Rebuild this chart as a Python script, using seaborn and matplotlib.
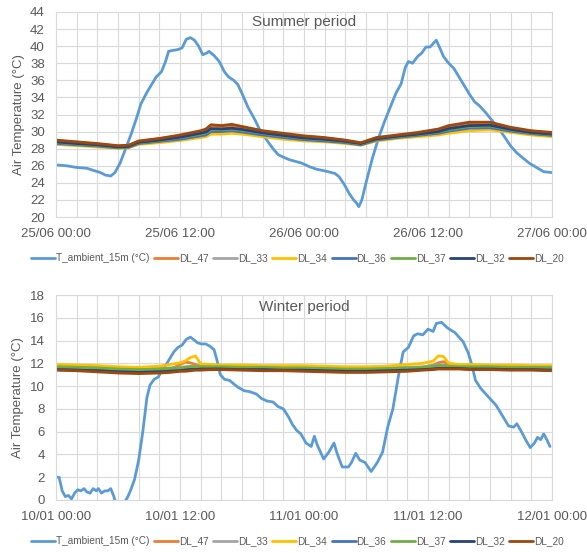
import pandas as pd
import numpy as np
import matplotlib.pyplot as plt
import matplotlib.dates as mdates
from matplotlib.lines import Line2D
import seaborn as sns

sns.set_style('white')
plt.rcParams['font.family'] = ['Liberation Sans', 'DejaVu Sans']

series_names = ['T_ambient_15m (°C)', 'DL_47', 'DL_33', 'DL_34', 'DL_36', 'DL_37', 'DL_32', 'DL_20']
series_colors = ['#5B9BD5', '#ED7D31', '#A5A5A5', '#FFC000', '#4472C4', '#70AD47', '#264478', '#9E480E']

summer_start = '2019-06-25 00:00'
winter_start = '2020-01-10 00:00'

# ---- summer period (hours from 25/06 00:00) ----
summer_amb_h = [0, 1, 2, 3, 3.5, 4.3, 4.8, 5.3, 5.7, 6.2, 6.8, 7.3, 7.8, 8.2, 8.8, 9.3, 9.7, 10.2,
                10.6, 10.9, 11.3, 11.8, 12.2, 12.6, 13.0, 13.4, 13.8, 14.2, 14.6, 14.8, 15.3, 15.8,
                16.3, 16.7, 17.2, 17.6, 18.1, 18.6, 19.2, 19.8, 20.4, 21.0, 21.5, 22.0, 22.6, 23.2,
                23.8, 24.5, 25.2, 26.0, 27.0, 27.4, 27.9, 28.4, 28.8, 29.1, 29.3, 29.6, 30.0, 30.6,
                31.2, 31.8, 32.4, 32.9, 33.4, 33.8, 34.1, 34.5, 35.0, 35.4, 35.8, 36.2, 36.5, 36.8,
                37.1, 37.5, 38.0, 38.5, 39.0, 39.5, 40.0, 40.5, 41.0, 41.6, 42.2, 42.8, 43.4, 44.0,
                44.6, 45.2, 45.8, 46.5, 47.2, 48.0]
summer_amb = [26.1, 26.0, 25.8, 25.7, 25.5, 25.2, 24.9, 24.8, 25.2, 26.3, 28.2, 29.8, 31.6, 33.2, 34.6,
              35.6, 36.4, 37.0, 38.2, 39.4, 39.5, 39.6, 39.8, 40.8, 41.0, 40.7, 40.0, 39.0, 39.2, 39.4,
              38.9, 38.2, 37.0, 36.4, 36.0, 35.5, 34.2, 32.8, 31.5, 30.0, 29.0, 28.0, 27.3, 27.0, 26.7,
              26.5, 26.3, 25.9, 25.6, 25.4, 25.1, 24.7, 23.8, 22.7, 22.0, 21.6, 21.2, 22.0, 24.0, 26.8,
              29.2, 31.2, 33.0, 34.5, 35.6, 37.5, 38.2, 38.0, 38.8, 39.2, 39.9, 39.9, 40.3, 40.7, 39.9,
              38.8, 38.0, 37.4, 36.4, 35.4, 34.4, 33.5, 33.0, 32.2, 31.3, 30.4, 29.4, 28.3, 27.5, 26.9,
              26.3, 25.8, 25.3, 25.2]

summer_dl_h = [0, 2, 4, 6, 7, 8, 10, 12, 14, 14.5, 15, 16, 17, 18, 20, 22, 24, 26, 28, 29.5,
               31, 33, 35, 37, 38, 40, 42, 44, 46, 48]
summer_dl47 = [28.95, 28.75, 28.55, 28.3, 28.35, 28.85, 29.15, 29.5, 29.95, 30.15, 30.65, 30.55, 30.7,
               30.5, 30.0, 29.7, 29.45, 29.25, 28.95, 28.65, 29.25, 29.55, 29.8, 30.15, 30.5, 30.9,
               30.95, 30.4, 30.05, 29.85]
summer_dl33 = [28.7, 28.5, 28.35, 28.1, 28.15, 28.65, 28.9, 29.2, 29.6, 29.75, 30.1, 30.1, 30.2, 30.05,
               29.7, 29.4, 29.15, 29.0, 28.75, 28.5, 29.05, 29.35, 29.6, 29.9, 30.15, 30.5, 30.55,
               30.15, 29.8, 29.6]
summer_dl34 = [28.5, 28.35, 28.2, 28.05, 28.1, 28.5, 28.7, 28.95, 29.3, 29.4, 29.7, 29.7, 29.8, 29.7,
               29.4, 29.1, 28.9, 28.8, 28.6, 28.4, 28.9, 29.2, 29.4, 29.6, 29.8, 30.1, 30.2, 29.9,
               29.6, 29.4]
summer_dl36 = [28.6, 28.45, 28.3, 28.1, 28.15, 28.6, 28.85, 29.1, 29.5, 29.6, 30.0, 30.0, 30.1, 29.95,
               29.6, 29.3, 29.05, 28.9, 28.7, 28.45, 29.0, 29.3, 29.55, 29.8, 30.05, 30.4, 30.45,
               30.05, 29.75, 29.55]
summer_dl37 = [28.75, 28.55, 28.4, 28.15, 28.2, 28.7, 28.95, 29.3, 29.7, 29.85, 30.25, 30.2, 30.3,
               30.15, 29.8, 29.5, 29.2, 29.05, 28.8, 28.55, 29.1, 29.4, 29.65, 29.95, 30.25, 30.6,
               30.65, 30.2, 29.85, 29.65]
summer_dl32 = [28.8, 28.6, 28.45, 28.2, 28.25, 28.75, 29.0, 29.35, 29.8, 29.95, 30.35, 30.3, 30.4,
               30.25, 29.85, 29.55, 29.25, 29.1, 28.85, 28.6, 29.15, 29.45, 29.7, 30.0, 30.35, 30.7,
               30.75, 30.25, 29.9, 29.7]
summer_dl20 = [29.0, 28.8, 28.6, 28.35, 28.4, 28.9, 29.2, 29.6, 30.1, 30.3, 30.8, 30.7, 30.85, 30.6,
               30.1, 29.8, 29.5, 29.3, 29.0, 28.7, 29.3, 29.6, 29.9, 30.3, 30.7, 31.1, 31.1, 30.5,
               30.1, 29.9]

# ---- winter period (hours from 10/01 00:00) ----
winter_amb_h = [0, 0.3, 0.6, 0.9, 1.2, 1.5, 1.8, 2.1, 2.4, 2.7, 3.0, 3.3, 3.6, 3.9, 4.1, 4.4, 4.7,
                5.0, 5.3, 5.6, 5.8, 6.2, 6.6, 6.9, 7.2, 7.6, 8.0, 8.4, 8.8, 9.1, 9.5, 9.9, 10.2, 10.6,
                11.0, 11.4, 11.8, 12.2, 12.6, 13.0, 13.3, 13.7, 14.1, 14.5, 14.9, 15.3, 15.6, 15.9,
                16.3, 16.8, 17.2, 17.6, 18.2, 18.8, 19.4, 19.9, 20.4, 21.0, 21.5, 22.0, 22.5, 22.9,
                23.3, 23.7, 24.2, 24.7, 25.0, 25.3, 25.9, 26.4, 26.9, 27.2, 27.7, 28.3, 28.6, 29.0,
                29.4, 29.9, 30.5, 31.1, 31.6, 32.1, 32.6, 32.9, 33.2, 33.6, 34.1, 34.6, 35.0, 35.5,
                36.0, 36.5, 36.8, 37.3, 37.9, 38.6, 39.4, 39.9, 40.2, 40.6, 41.1, 41.6, 42.1, 42.6,
                43.2, 43.8, 44.3, 44.6, 45.1, 45.5, 45.9, 46.3, 46.6, 46.9, 47.2, 47.5, 47.8]
winter_amb = [2.0, 2.0, 0.8, 0.3, 0.4, 0.1, 0.6, 0.9, 0.8, 1.0, 0.7, 0.6, 1.0, 0.8, 1.0, 0.6, 0.8,
              0.8, 1.0, 0.3, -0.3, -0.6, -0.2, 0.2, 0.8, 1.8, 3.5, 6.0, 9.0, 10.1, 10.6, 10.8, 11.3,
              11.8, 12.4, 13.0, 13.4, 13.6, 14.1, 14.3, 14.1, 13.8, 13.7, 13.7, 13.5, 13.2, 12.2,
              11.0, 10.6, 10.5, 10.2, 9.9, 9.6, 9.5, 9.3, 8.9, 8.7, 8.6, 8.2, 8.0, 7.3, 6.6, 6.1,
              5.8, 5.0, 4.7, 5.6, 4.8, 3.6, 4.2, 5.0, 4.1, 2.9, 2.9, 3.3, 4.1, 3.5, 3.3, 2.5, 3.3,
              4.2, 6.4, 8.0, 9.6, 11.2, 13.0, 13.4, 14.4, 14.6, 14.5, 15.0, 14.8, 15.5, 15.6, 15.1,
              14.7, 13.9, 12.9, 12.0, 10.5, 9.8, 9.3, 8.8, 8.3, 7.4, 6.5, 6.4, 6.7, 5.9, 5.2, 4.6,
              5.0, 5.5, 5.3, 5.8, 5.3, 4.7]

winter_dl_h = [0, 2, 4, 6, 8, 10, 11, 12, 12.5, 13, 13.5, 14, 15, 16, 18, 20, 22, 24, 26, 28, 30,
               32, 34, 35.5, 36.5, 37, 37.5, 38, 39, 40, 42, 44, 46, 48]
winter_dl47 = [11.5, 11.45, 11.4, 11.3, 11.25, 11.3, 11.45, 11.9, 12.1, 12.05, 11.9, 11.75, 11.6,
               11.55, 11.5, 11.45, 11.45, 11.4, 11.35, 11.3, 11.3, 11.35, 11.5, 11.65, 11.85, 12.05,
               12.15, 11.9, 11.7, 11.6, 11.55, 11.5, 11.5, 11.45]
winter_dl33 = [11.75, 11.7, 11.65, 11.55, 11.5, 11.55, 11.6, 11.65, 11.7, 11.75, 11.75, 11.75, 11.75,
               11.7, 11.7, 11.7, 11.65, 11.65, 11.6, 11.55, 11.55, 11.6, 11.65, 11.7, 11.8, 11.85,
               11.85, 11.8, 11.75, 11.75, 11.7, 11.7, 11.7, 11.65]
winter_dl34 = [11.9, 11.85, 11.8, 11.7, 11.65, 11.75, 11.9, 12.05, 12.2, 12.5, 12.65, 11.95, 11.9,
               11.85, 11.85, 11.8, 11.8, 11.8, 11.75, 11.7, 11.7, 11.75, 11.9, 12.0, 12.2, 12.65,
               12.6, 12.0, 11.9, 11.9, 11.85, 11.85, 11.8, 11.8]
winter_dl36 = [11.55, 11.5, 11.45, 11.35, 11.3, 11.35, 11.4, 11.45, 11.5, 11.55, 11.55, 11.6, 11.6,
               11.55, 11.55, 11.5, 11.5, 11.5, 11.45, 11.4, 11.4, 11.45, 11.5, 11.55, 11.6, 11.65,
               11.65, 11.65, 11.6, 11.6, 11.55, 11.55, 11.55, 11.5]
winter_dl37 = [11.7, 11.65, 11.6, 11.5, 11.45, 11.5, 11.55, 11.6, 11.65, 11.7, 11.7, 11.7, 11.7,
               11.7, 11.65, 11.65, 11.6, 11.6, 11.55, 11.5, 11.5, 11.55, 11.6, 11.65, 11.75, 11.8,
               11.8, 11.75, 11.7, 11.7, 11.7, 11.65, 11.65, 11.65]
winter_dl32 = [11.45, 11.4, 11.35, 11.25, 11.2, 11.25, 11.3, 11.35, 11.4, 11.45, 11.45, 11.5, 11.5,
               11.5, 11.45, 11.45, 11.4, 11.4, 11.35, 11.3, 11.3, 11.35, 11.4, 11.45, 11.5, 11.55,
               11.55, 11.55, 11.55, 11.5, 11.5, 11.45, 11.45, 11.4]
winter_dl20 = [11.4, 11.35, 11.25, 11.15, 11.1, 11.15, 11.2, 11.3, 11.3, 11.35, 11.4, 11.4, 11.45,
               11.45, 11.4, 11.35, 11.35, 11.3, 11.25, 11.2, 11.2, 11.25, 11.3, 11.4, 11.45, 11.5,
               11.5, 11.5, 11.5, 11.45, 11.45, 11.4, 11.4, 11.35]


def build_frame(start, amb_h, amb, dl_h, dl_lists):
    t0 = pd.Timestamp(start)
    parts = [pd.DataFrame({'time': t0 + pd.to_timedelta(amb_h, unit='h'),
                           'temp': amb, 'series': series_names[0]})]
    for name, vals in zip(series_names[1:], dl_lists):
        parts.append(pd.DataFrame({'time': t0 + pd.to_timedelta(dl_h, unit='h'),
                                   'temp': vals, 'series': name}))
    return pd.concat(parts, ignore_index=True)


summer_df = build_frame(summer_start, summer_amb_h, summer_amb, summer_dl_h,
                        [summer_dl47, summer_dl33, summer_dl34, summer_dl36,
                         summer_dl37, summer_dl32, summer_dl20])
winter_df = build_frame(winter_start, winter_amb_h, winter_amb, winter_dl_h,
                        [winter_dl47, winter_dl33, winter_dl34, winter_dl36,
                         winter_dl37, winter_dl32, winter_dl20])

text_col = '#595959'
grid_col = '#d9d9d9'

fig = plt.figure(figsize=(5.87, 5.53), dpi=100)
W, H = 587, 553
ax_top = fig.add_axes([56 / W, 1 - 217 / H, 496 / W, 205 / H])
ax_bot = fig.add_axes([56 / W, 1 - 500 / H, 496 / W, 205 / H])

panels = [(ax_top, summer_df, summer_start, (20, 44), 'Summer period', 0.95),
          (ax_bot, winter_df, winter_start, (0, 18), 'Winter period', 0.94)]

for ax, df, start, ylim, title, ty in panels:
    sns.lineplot(data=df, x='time', y='temp', hue='series', hue_order=series_names,
                 palette=series_colors, estimator=None, lw=2, legend=False, ax=ax)
    t0 = pd.Timestamp(start)
    ax.set_xlim(t0, t0 + pd.Timedelta(hours=48))
    ax.set_ylim(*ylim)
    ax.set_yticks(np.arange(ylim[0], ylim[1] + 1, 2))
    ax.xaxis.set_major_locator(mdates.HourLocator(byhour=[0, 12]))
    ax.xaxis.set_minor_locator(mdates.HourLocator(interval=2))
    ax.xaxis.set_major_formatter(mdates.DateFormatter('%d/%m %H:%M'))
    ax.grid(True, which='both', color=grid_col, lw=0.8)
    ax.set_axisbelow(True)
    for sp in ax.spines.values():
        sp.set_color(grid_col)
        sp.set_linewidth(0.8)
    ax.tick_params(which='both', length=0, pad=8, labelsize=9.5, colors=text_col)
    ax.set_xlabel('')
    ax.set_ylabel('Air Temperature (°C)', fontsize=9.5, color=text_col, labelpad=4)
    ax.text(0.5, ty, title, transform=ax.transAxes, ha='center', va='center',
            fontsize=11, color=text_col)
    handles = [Line2D([], [], color=c, lw=2) for c in series_colors]
    leg = ax.legend(handles, series_names, loc='center', bbox_to_anchor=(0.487, -0.2),
                    ncol=8, frameon=False, fontsize=7.2, handlelength=2.4,
                    handletextpad=0.1, columnspacing=0.45, borderpad=0)
    for t in leg.get_texts():
        t.set_color(text_col)

fig.savefig('out.png', dpi=100)
